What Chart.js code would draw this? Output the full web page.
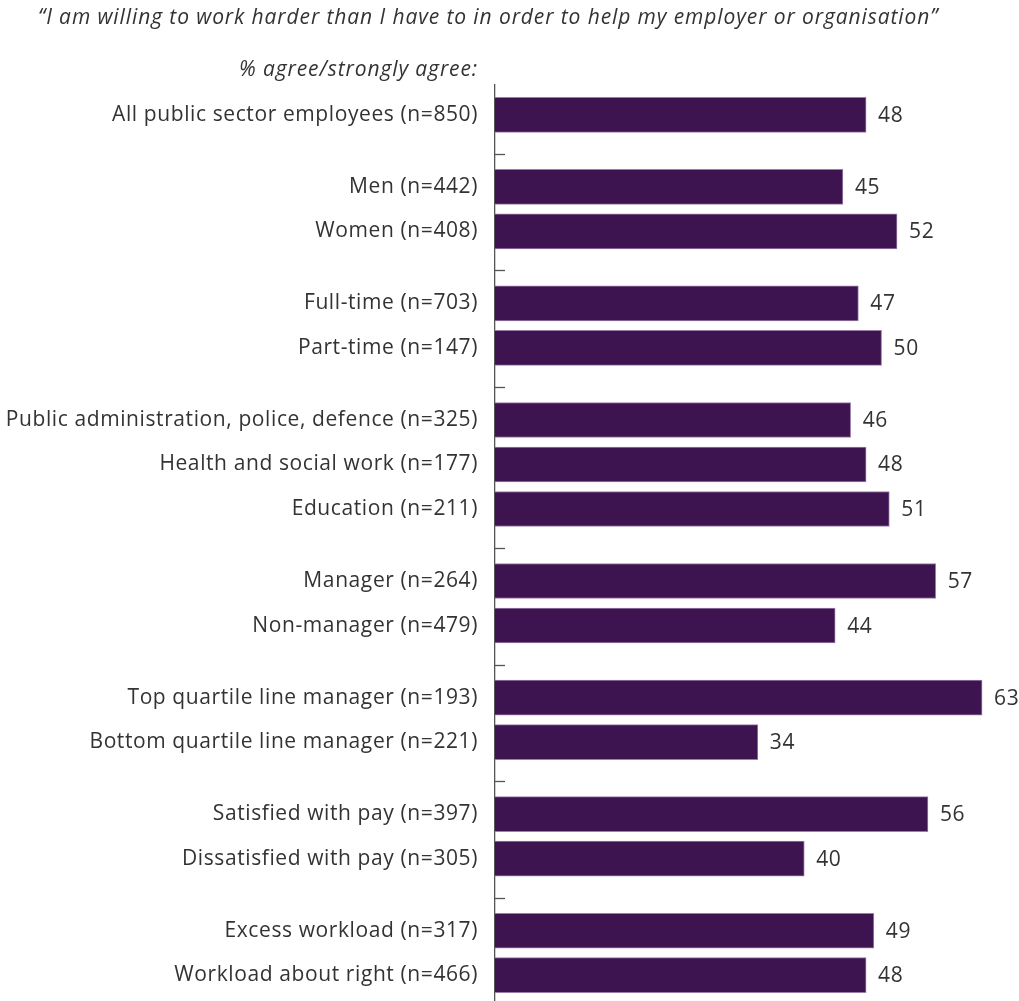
<!DOCTYPE html>
<html>
<head>
<meta charset="utf-8">
<script src="https://cdn.jsdelivr.net/npm/chart.js@4.4.1/dist/chart.umd.min.js"></script>
<style>
  html, body { margin: 0; padding: 0; background: #ffffff; }
  #wrap { width: 1019px; height: 1001px; }
</style>
</head>
<body>
<div id="wrap"><canvas id="chart" width="1019" height="1001"></canvas></div>
<script>
// Survey groups and share agreeing (%)
const categories = [
  'All public sector employees (n=850)',
  'Men (n=442)',
  'Women (n=408)',
  'Full-time (n=703)',
  'Part-time (n=147)',
  'Public administration, police, defence (n=325)',
  'Health and social work (n=177)',
  'Education (n=211)',
  'Manager (n=264)',
  'Non-manager (n=479)',
  'Top quartile line manager (n=193)',
  'Bottom quartile line manager (n=221)',
  'Satisfied with pay (n=397)',
  'Dissatisfied with pay (n=305)',
  'Excess workload (n=317)',
  'Workload about right (n=466)'
];
const agreePct = [48, 45, 52, 47, 50, 46, 48, 51, 57, 44, 63, 34, 56, 40, 49, 48];
// how many rows belong to each block of related groups
const groupSizes = [1, 2, 2, 3, 2, 2, 2, 2];

const titleText = '\u201CI am willing to work harder than I have to in order to help my employer or organisation\u201D';
const subtitleText = '% agree/strongly agree:';

// Row slots: one unit per row, an extra partial unit between blocks
const GROUP_GAP = 0.62;
const rowPos = [];
const separators = [];
(function () {
  let p = 0;
  groupSizes.forEach((n, g) => {
    if (g > 0) {
      separators.push(p - 1 + (1 + GROUP_GAP) / 2);
      p += GROUP_GAP;
    }
    for (let i = 0; i < n; i++) { rowPos.push(p); p += 1; }
  });
})();

const FONT = '"Open Sans", "DejaVu Sans", sans-serif';
const TEXT = '#333333';
const AXIS_LEFT = 495;

const spacing = {
  id: 'spacing',
  beforeDraw(chart) { chart.ctx.letterSpacing = '0.6px'; }
};

const decorations = {
  id: 'decorations',
  afterDatasetsDraw(chart) {
    const ctx = chart.ctx;
    const yScale = chart.scales.y;
    ctx.save();
    // value labels
    ctx.letterSpacing = '0.6px';
    ctx.font = '21px ' + FONT;
    ctx.fillStyle = TEXT;
    ctx.textAlign = 'left';
    ctx.textBaseline = 'middle';
    chart.getDatasetMeta(0).data.forEach((bar, i) => {
      ctx.fillText(String(agreePct[i]), bar.x + 12, bar.y + 1);
    });
    // short marks on the axis between blocks
    ctx.strokeStyle = '#555555';
    ctx.lineWidth = 1.3;
    separators.forEach(s => {
      const y = Math.round(yScale.getPixelForValue(s)) + 3.5;
      ctx.beginPath();
      ctx.moveTo(chart.chartArea.left, y);
      ctx.lineTo(chart.chartArea.left + 10, y);
      ctx.stroke();
    });
    // heading lines
    ctx.letterSpacing = '0.9px';
    ctx.font = 'italic 21px ' + FONT;
    ctx.fillStyle = TEXT;
    ctx.textAlign = 'left';
    ctx.fillText(titleText, 38, 18);
    ctx.textAlign = 'right';
    ctx.fillText(subtitleText, 478, 70);
    ctx.restore();
  }
};

new Chart(document.getElementById('chart'), {
  type: 'bar',
  data: {
    datasets: [{
      data: agreePct.map((v, i) => ({ x: v, y: rowPos[i] })),
      backgroundColor: '#3e1450',
      borderColor: '#9a7dab',
      borderWidth: 1,
      borderSkipped: 'left',
      barThickness: 35
    }]
  },
  options: {
    indexAxis: 'y',
    responsive: false,
    animation: false,
    layout: { padding: { top: 85, right: 6, bottom: 0, left: 0 } },
    plugins: {
      legend: { display: false },
      tooltip: { enabled: false },
      title: { display: false }
    },
    scales: {
      x: {
        type: 'linear',
        display: false,
        min: 0,
        max: 67
      },
      y: {
        type: 'linear',
        reverse: true,
        offset: false,
        min: -0.67,
        max: rowPos[rowPos.length - 1] + 0.58,
        afterBuildTicks(axis) {
          axis.ticks = rowPos.map(v => ({ value: v }));
        },
        afterFit(axis) {
          axis.width = AXIS_LEFT;
          axis.paddingTop = 0;
          axis.paddingBottom = 0;
        },
        grid: { display: false, drawTicks: false, offset: false },
        border: { display: true, color: '#555555', width: 1.3 },
        ticks: {
          autoSkip: false,
          padding: 17,
          color: TEXT,
          font: { family: FONT, size: 21 },
          callback: (v, i) => categories[i]
        }
      }
    }
  },
  plugins: [spacing, decorations]
});
</script>
</body>
</html>
